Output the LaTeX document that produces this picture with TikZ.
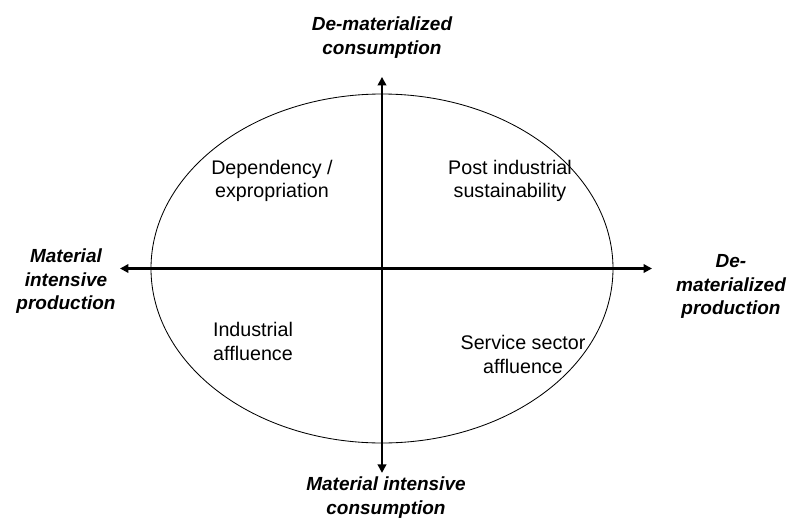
\documentclass[tikz,border=0pt]{standalone}
\usepackage{fontspec}
\setmainfont{Liberation Sans}
\usetikzlibrary{arrows.meta}

\begin{document}
\begin{tikzpicture}[
    axis/.style={line width=1.6pt, {Triangle[length=6pt, width=6pt]}-{Triangle[length=6pt, width=6pt]}},
    axislabel/.style={align=center, inner sep=0pt, font=\fontsize{13.5}{16.7}\selectfont\bfseries\itshape},
    quadrant/.style={align=center, inner sep=0pt, font=\fontsize{14}{17}\selectfont}
  ]
    \useasboundingbox (-9.55,-6.2375) rectangle (10.25,6.7125);

    \draw[line width=0.6pt] (0,0) ellipse [x radius=5.775, y radius=4.3625];

    % axis ends
    \coordinate (N) at (0, 4.79);
    \coordinate (S) at (0, -5.11);
    \coordinate (W) at (-6.55, 0);
    \coordinate (E) at (6.75, 0);

    \draw[axis] (S) -- (N);
    \draw[axis] (W) -- (E);

    \node at (0, 5.775) (dmc) [axislabel] {De-materialized\\consumption};
    \node at (0.1, -5.725) (mic) [axislabel] {Material intensive\\consumption};
    \node at (-7.9, -0.325) (mip) [axislabel] {Material\\intensive\\production};
    \node at (8.725, -0.46) (dmp) [axislabel] {De-\\materialized\\production};

    \node at (-2.75, 2.19) (dep) [quadrant] {Dependency /\\expropriation};
    \node at (3.2, 2.19) (post) [quadrant] {Post industrial\\sustainability};
    \node at (-3.225, -1.825) (ind) [quadrant] {Industrial\\affluence};
    \node at (3.525, -2.14) (serv) [quadrant] {Service sector\\affluence};
  \end{tikzpicture}
\end{document}
